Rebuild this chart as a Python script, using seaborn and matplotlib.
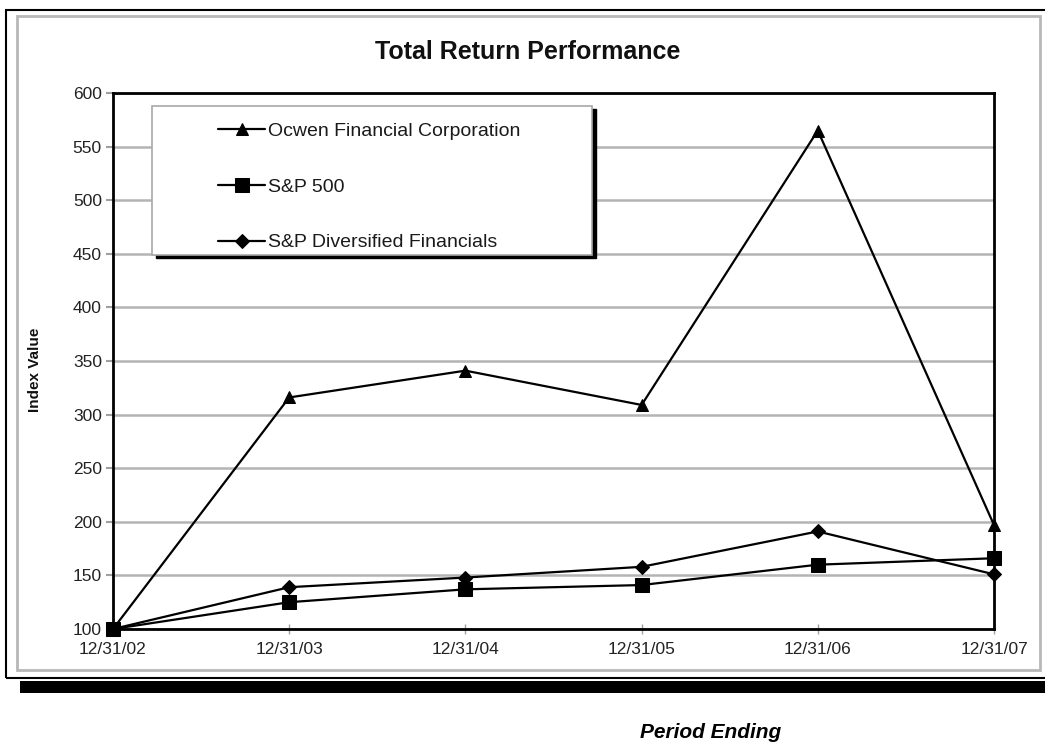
import matplotlib
matplotlib.use("Agg")
import matplotlib.pyplot as plt
import matplotlib.transforms as mtransforms
from matplotlib.patches import Rectangle
import seaborn as sns
import pandas as pd

# ---- data ----
periods = ["12/31/02", "12/31/03", "12/31/04", "12/31/05", "12/31/06", "12/31/07"]
ocwen = [100, 316, 341, 309, 565, 197]
sp500 = [100, 125, 137, 141, 160, 166]
sp_div_fin = [100, 139, 148, 158, 191, 151]
series_names = ["Ocwen Financial Corporation", "S&P 500", "S&P Diversified Financials"]
y_ticks = [100, 150, 200, 250, 300, 350, 400, 450, 500, 550, 600]

rows = []
for name, vals in zip(series_names, [ocwen, sp500, sp_div_fin]):
    for i, v in enumerate(vals):
        rows.append({"pos": i, "value": v, "series": name})
df = pd.DataFrame(rows)

sns.set_theme(style="white")
plt.rcParams["font.family"] = ["Liberation Sans", "DejaVu Sans"]

W, H = 1045, 742
fig = plt.figure(figsize=(W / 100, H / 100), dpi=100)
fig.patch.set_facecolor("white")

def fx(px):
    return px / W

def fy(py):
    return 1 - py / H

ax_l, ax_r, ax_t, ax_b = 113, 994, 93, 629
ax = fig.add_axes([fx(ax_l), fy(ax_b), fx(ax_r - ax_l), (ax_b - ax_t) / H])

sns.lineplot(
    data=df, x="pos", y="value", hue="series", style="series",
    hue_order=series_names, style_order=series_names,
    palette=["black"] * 3,
    markers={"Ocwen Financial Corporation": "^", "S&P 500": "s",
             "S&P Diversified Financials": "D"},
    dashes=False, linewidth=1.6, markersize=9.5,
    markeredgecolor="black", ax=ax, legend=True, zorder=4,
)
for line in ax.lines:
    m = line.get_marker()
    if m == "D":
        line.set_markersize(7.5)
    elif m == "s":
        line.set_markersize(10)
    elif m == "^":
        line.set_markersize(9)
    line.set_clip_on(False)

ax.set_xlim(0, len(periods) - 1)
ax.set_ylim(100, 600)
ax.set_xticks(range(len(periods)))
ax.set_xticklabels(periods)
ax.set_yticks(y_ticks)
ax.yaxis.grid(True, color="#b4b4b4", linewidth=1.8)
ax.xaxis.grid(False)
ax.set_axisbelow(True)

for sp in ax.spines.values():
    sp.set_color("black")
    sp.set_linewidth(2)
    sp.set_zorder(5)

ax.tick_params(axis="y", which="major", direction="out", length=5, width=1.5,
               color="#a0a0a0", pad=3, labelsize=12.5, labelcolor="#222222", left=True)
ax.tick_params(axis="x", which="major", direction="inout", length=7, width=1,
               color="#a0a0a0", pad=6, labelsize=12.5, labelcolor="#222222", bottom=True)

ax.set_ylabel("Index Value", fontsize=11, fontweight="bold", color="#111111")
ax.yaxis.set_label_coords((42 - ax_l) / (ax_r - ax_l), 0.483)
ax.set_xlabel("Period Ending", fontsize=15, fontweight="bold", style="italic", color="black")
ax.xaxis.set_label_coords((711 - ax_l) / (ax_r - ax_l), (ax_b - 723) / (ax_b - ax_t))

# legend box with shadow
lx0 = (152 - ax_l) / (ax_r - ax_l)
lx1 = (592 - ax_l) / (ax_r - ax_l)
ly1 = (ax_b - 106) / (ax_b - ax_t)
ly0 = (ax_b - 255) / (ax_b - ax_t)
shadow_tr = mtransforms.offset_copy(ax.transAxes, fig=fig, x=3.5, y=-3.5, units="dots")
ax.add_patch(Rectangle((lx0, ly0), lx1 - lx0, ly1 - ly0, transform=shadow_tr,
                       facecolor="black", edgecolor="black", zorder=6, clip_on=False))
ax.add_patch(Rectangle((lx0, ly0), lx1 - lx0, ly1 - ly0, transform=ax.transAxes,
                       facecolor="white", edgecolor="#a8a8a8", linewidth=1.2, zorder=7,
                       clip_on=False))

handles, labels = ax.get_legend_handles_labels()
leg = ax.legend(handles, labels, loc="upper left",
                bbox_to_anchor=((218 - ax_l) / (ax_r - ax_l), (ax_b - 122) / (ax_b - ax_t)),
                frameon=False, fontsize=14, labelspacing=1.97, handlelength=2.42,
                handletextpad=0.15, borderpad=0, borderaxespad=0, labelcolor="#1a1a1a")
leg.set_zorder(8)

# title
fig.text(fx(528), fy(52), "Total Return Performance", ha="center", va="center",
         fontsize=18, fontweight="bold", color="#111111")

# outer frame, inner gray border, bottom black bar
fig.add_artist(Rectangle((fx(6), fy(678)), fx(1060 - 6), (678 - 10) / H,
                         transform=fig.transFigure, facecolor="none",
                         edgecolor="black", linewidth=1.5))
fig.add_artist(Rectangle((fx(17), fy(670)), fx(1040 - 17), (670 - 16) / H,
                         transform=fig.transFigure, facecolor="none",
                         edgecolor="#b8b8b8", linewidth=2))
fig.add_artist(Rectangle((fx(20), fy(693)), fx(1045 - 20), (693 - 681) / H,
                         transform=fig.transFigure, facecolor="black",
                         edgecolor="none"))

fig.savefig("out.png", dpi=100)
